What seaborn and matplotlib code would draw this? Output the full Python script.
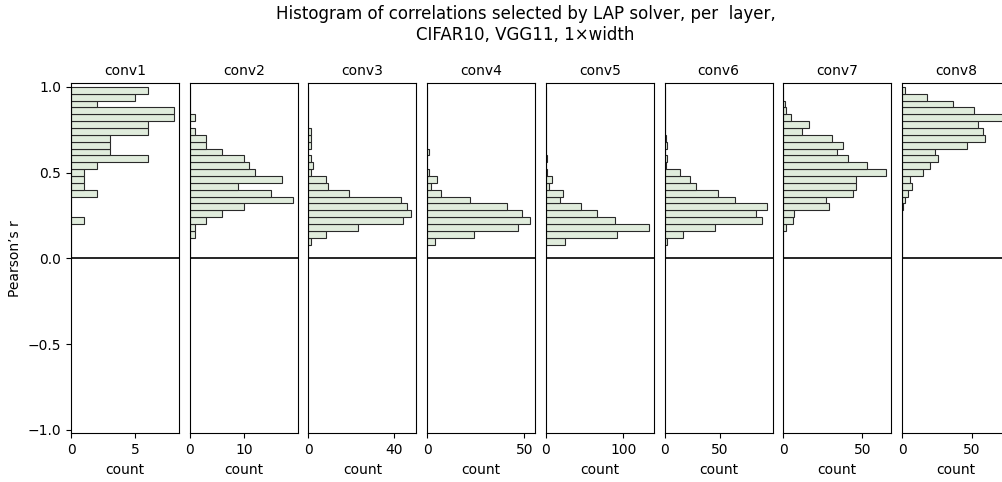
import numpy as np
import pandas as pd
import matplotlib
matplotlib.use("Agg")
import matplotlib.pyplot as plt
import seaborn as sns

# Layers shown, one panel each
layers = ["conv1", "conv2", "conv3", "conv4", "conv5", "conv6", "conv7", "conv8"]

# Correlation bins of width 0.04 covering [0, 1]; counts listed from the
# highest bin (0.96-1.00) down to the lowest (0.00-0.04).
conv1_counts = [6, 5, 2, 8, 8, 6, 6, 3, 3, 3, 6, 2, 1, 1, 1, 2, 0, 0, 0, 1, 0, 0, 0, 0, 0]
conv2_counts = [0, 0, 0, 0, 1, 0, 1, 3, 3, 6, 10, 11, 12, 17, 9, 15, 19, 10, 6, 3, 1, 1, 0, 0, 0]
conv3_counts = [0, 0, 0, 0, 0, 0, 1, 1, 1, 0, 1, 2, 1, 8, 9, 19, 43, 46, 48, 44, 23, 8, 1, 0, 0]
conv4_counts = [0, 0, 0, 0, 0, 0, 0, 0, 0, 1, 0, 0, 1, 5, 2, 7, 22, 41, 49, 53, 47, 24, 4, 0, 0]
conv5_counts = [0, 0, 0, 0, 0, 0, 0, 0, 0, 0, 2, 0, 2, 8, 4, 22, 18, 45, 66, 90, 133, 92, 25, 0, 0]
conv6_counts = [0, 0, 0, 0, 0, 0, 0, 1, 2, 0, 2, 1, 14, 23, 28, 48, 64, 93, 83, 88, 46, 17, 2, 0, 0]
conv7_counts = [0, 0, 1, 2, 5, 16, 12, 31, 38, 34, 41, 53, 65, 46, 46, 44, 27, 29, 7, 6, 2, 0, 0, 0, 0]
conv8_counts = [2, 18, 37, 52, 74, 55, 58, 60, 47, 24, 26, 20, 15, 6, 7, 4, 2, 1, 0, 0, 0, 0, 0, 0, 0]

counts_per_layer = [conv1_counts, conv2_counts, conv3_counts, conv4_counts,
                    conv5_counts, conv6_counts, conv7_counts, conv8_counts]

# x tick positions for each panel
xticks_per_layer = [[0, 5], [0, 10], [0, 40], [0, 50], [0, 100], [0, 50], [0, 50], [0, 50]]

yticks = [-1.0, -0.5, 0.0, 0.5, 1.0]

bin_edges = np.linspace(0.0, 1.0, 26)
bin_centers = ((bin_edges[:-1] + bin_edges[1:]) / 2)[::-1]  # high -> low

fig, axes = plt.subplots(1, len(layers), figsize=(10.03, 4.82), dpi=100, sharey=True)
fig.subplots_adjust(left=0.0708, right=1.007, top=0.827, bottom=0.101, wspace=0.099)

for i, (ax, name, counts, xt) in enumerate(zip(axes, layers, counts_per_layer, xticks_per_layer)):
    df = pd.DataFrame({"r": bin_centers, "n": np.asarray(counts, dtype=float)})
    sns.histplot(data=df, y="r", weights="n", bins=list(bin_edges), ax=ax,
                 color="#e0ecdc", edgecolor="#2a2a2a", linewidth=0.8, alpha=1.0)
    ax.axhline(0.0, color="black", linewidth=1.2)
    ax.set_title(name, fontsize=10)
    ax.set_xlabel("count")
    ax.set_xticks(xt)
    ax.set_ylim(-1.02, 1.02)
    for s in ax.spines.values():
        s.set_visible(True)
        s.set_color("black")
    if i == 0:
        ax.set_yticks(yticks)
        ax.set_ylabel("Pearson\u2019s r")
    else:
        ax.set_ylabel("")
        ax.tick_params(axis="y", left=False, labelleft=False)

fig.suptitle("Histogram of correlations selected by LAP solver, per  layer,\nCIFAR10, VGG11, 1\u00d7width",
             fontsize=12, x=0.524, y=0.99)

fig.savefig("out.png", dpi=100)
